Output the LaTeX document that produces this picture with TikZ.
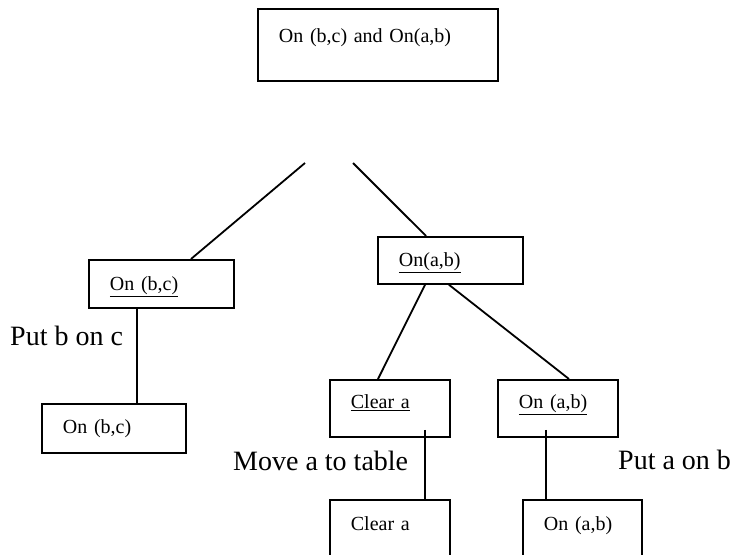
\documentclass[tikz,border=0pt]{standalone}
\usepackage{fontspec}
\setmainfont{Liberation Serif}
\usetikzlibrary{calc}
\newcommand\myboxfont{\fontsize{20}{24}\selectfont}
\newcommand\mylblfont{\fontsize{28}{34}\selectfont}
\tikzset{
  box/.style={draw, line width=1.8pt, rectangle, anchor=north west, inner xsep=21pt, inner ysep=0pt, align=left, font=\myboxfont},
  lbl/.style={anchor=base west, inner sep=0pt, font=\mylblfont},
  conn/.style={line width=1.8pt}
}
\begin{document}
\begin{tikzpicture}[x=1pt,y=-1pt]
\clip (0,0) rectangle (732,555);
\fill[white] (0,0) rectangle (732,555);
% boxes
\node[box, text width=198pt, text height=34pt, text depth=38pt] (top) at (257,8) {On (b,c) and On(a,b)};
\node[box, text width=103pt, text height=31pt, text depth=17pt] (onbc) at (88,259) {\underline{On (b,c)}};
\node[box, text width=102pt, text height=30pt, text depth=19pt] (onbc2) at (41,403) {On (b,c)};
\node[box, text width=103pt, text height=30pt, text depth=17pt] (onab) at (377,236) {\underline{On(a,b)}};
\node[box, text width=78pt, text height=29pt, text depth=28pt] (cleara) at (329,379) {\underline{Clear a}};
\node[box, text width=78pt, text height=29pt, text depth=28pt] (onab2) at (497,379) {\underline{On (a,b)}};
\node[box, text width=78pt, text height=31pt, text depth=39pt] (cleara2) at (329,499) {Clear a};
\node[box, text width=77pt, text height=31pt, text depth=39pt] (onab3) at (522,499) {On (a,b)};
% free ends below the top box
\coordinate (tl) at (305,163);
\coordinate (tr) at (353,163);
% connectors
\draw[conn] (tl) -- (onbc);
\draw[conn] (tr) -- (onab);
\draw[conn] ($(onbc.south west)+(49,0)$) -- ($(onbc2.north west)+(96,0)$);
\draw[conn] ($(onab.south west)+(48,0)$) -- ($(cleara.north west)+(49,0)$);
\draw[conn] ($(onab.south west)+(72,0)$) -- ($(onab2.north west)+(72,0)$);
\draw[conn] ($(cleara.south west)+(96,-8)$) -- ($(cleara2.north west)+(96,0)$);
\draw[conn] ($(onab2.south west)+(49,-8)$) -- ($(onab3.north west)+(24,0)$);
% labels
\node[lbl] (l1) at (10,345) {Put b on c};
\node[lbl] (l2) at (233,470) {Move a to table};
\node[lbl] (l3) at (618,469) {Put a on b};
\end{tikzpicture}
\end{document}
